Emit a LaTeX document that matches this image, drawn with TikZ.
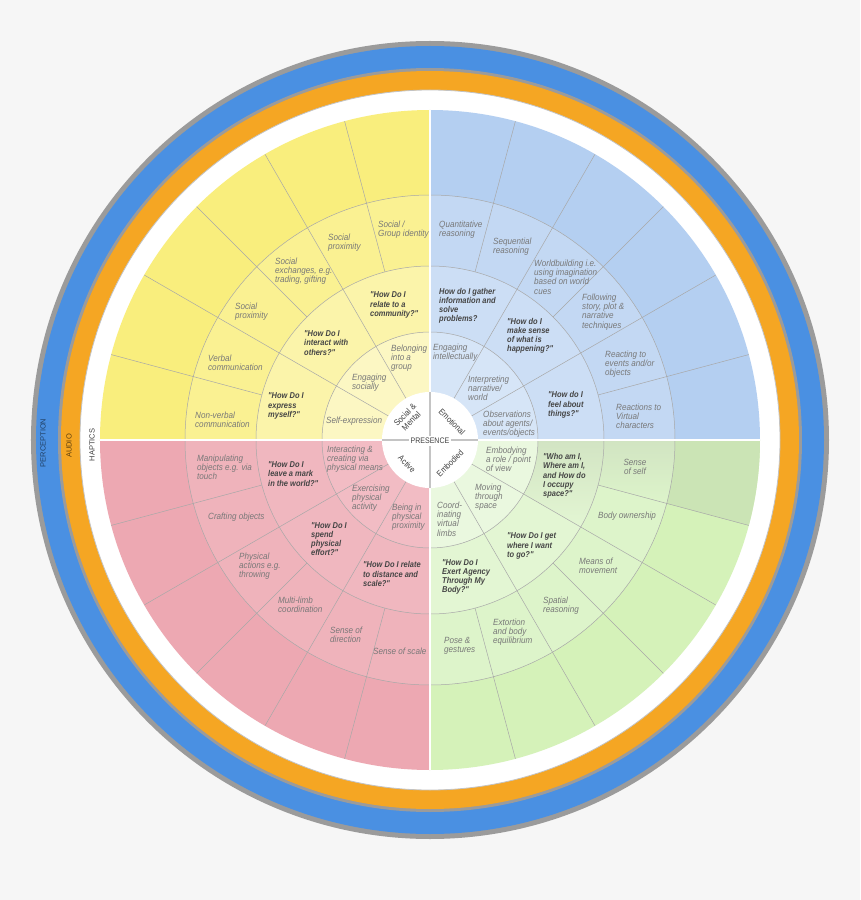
\documentclass[tikz,border=0pt]{standalone}
\usepackage{fontspec}
\setmainfont{Liberation Sans}
\newfontfamily\lblfont[FakeStretch=0.9]{Liberation Sans}
\newfontfamily\qstfont[FakeStretch=0.88]{Liberation Sans}

\definecolor{bgpage}{HTML}{F6F6F6}
\definecolor{ringgray}{HTML}{9B9B9B}
\definecolor{percblue}{HTML}{4A90E2}
\definecolor{audioorange}{HTML}{F5A623}
\definecolor{yelA}{HTML}{FCF7C3}
\definecolor{yelB}{HTML}{FBF4AA}
\definecolor{yelC}{HTML}{FAF192}
\definecolor{yelD}{HTML}{F9EE7D}
\definecolor{bluA}{HTML}{D6E5F7}
\definecolor{bluB}{HTML}{CCDEF5}
\definecolor{bluC}{HTML}{C3D8F3}
\definecolor{bluD}{HTML}{B4CFF1}
\definecolor{grnA}{HTML}{EAF8DF}
\definecolor{grnB}{HTML}{E3F6D3}
\definecolor{grnC}{HTML}{DDF4CA}
\definecolor{grnD}{HTML}{D5F2B9}
\definecolor{grnS2}{HTML}{D2E4C3}
\definecolor{grnS3}{HTML}{D1E4C2}
\definecolor{grnS4}{HTML}{CBE4B5}
\definecolor{redA}{HTML}{F2BCC4}
\definecolor{redB}{HTML}{F0B7BF}
\definecolor{redC}{HTML}{EFB3BB}
\definecolor{redD}{HTML}{EDA8B2}
\definecolor{linegray}{HTML}{A8A8A8}
\definecolor{hubline}{HTML}{C4C4C4}
\definecolor{lblgray}{HTML}{787878}
\definecolor{qstgray}{HTML}{454545}
\definecolor{hubgray}{HTML}{404040}

\begin{document}
\begin{tikzpicture}[x=1pt,y=1pt,inner sep=0pt,
  lbl/.style={font=\fontsize{9}{9.2}\lblfont\itshape, text=lblgray, align=left, anchor=west},
  qst/.style={font=\fontsize{8.5}{9.2}\qstfont\bfseries\itshape, text=qstgray, align=left, anchor=west},
  hub/.style={font=\fontsize{8.5}{9}\qstfont, text=hubgray, align=center},
  band/.style={font=\fontsize{7.5}{8}\selectfont, rotate=90},
  seg/.style={draw=linegray, line width=0.5pt},
  cut/.style={draw=white, line width=2pt}]

\useasboundingbox (-430,-460) rectangle (430,440);
\fill[bgpage] (-430,-460) rectangle (430,440);

% outer bands
\fill[ringgray] (0,0) circle (399);
\fill[percblue] (0,0) circle (394);
\fill[ringgray] (0,0) circle (372);
\fill[audioorange] (0,0) circle (369);
\fill[white] (0,0) circle (350);
\draw[ringgray!60, line width=0.8pt] (0,0) circle (350);

% quadrants, inner level first in the list
\foreach \a/\ca/\cb/\cc/\cd in {90/yelA/yelB/yelC/yelD, 0/bluA/bluB/bluC/bluD,
    270/grnA/grnB/grnC/grnD, 180/redA/redB/redC/redD}{
  \fill[\cd] (0,0) -- (\a:330) arc (\a:\a+90:330) -- cycle;
  \fill[\cc] (0,0) -- (\a:245) arc (\a:\a+90:245) -- cycle;
  \fill[\cb] (0,0) -- (\a:174) arc (\a:\a+90:174) -- cycle;
  \fill[\ca] (0,0) -- (\a:108) arc (\a:\a+90:108) -- cycle;
}
\fill[grnS4] (345:245) -- (345:330) arc (345:360:330) -- (0:245) arc (360:345:245) -- cycle;
\shade[top color=grnS3, bottom color=grnC] (345:174) -- (345:245) arc (345:360:245) -- (0:174) arc (360:345:174) -- cycle;
\shade[top color=grnS2, bottom color=grnB] (330:108) -- (330:174) arc (330:360:174) -- (0:108) arc (360:330:108) -- cycle;

\foreach \r in {108,174,245} \draw[seg] (0,0) circle (\r);
\foreach \a in {30,60,120,150,210,240,300,330} \draw[seg] (\a:48) -- (\a:330);
\foreach \a in {15,45,...,345} \draw[seg] (\a:174) -- (\a:330);
\foreach \a in {0,90,180,270} \draw[cut] (\a:48) -- (\a:330);

% hub
\fill[white] (0,0) circle (48);
\draw[hubline, line width=2pt] (-48,0) -- (48,0) (0,48) -- (0,-48);
\node[hub, font=\fontsize{8}{8.5}\qstfont, fill=white, inner sep=2pt] (presence) at (0,-1) {PRESENCE};
\node[hub, rotate=45] (social) at (-22,22) {Social \&\\Mental};
\node[hub, rotate=-45] (emotional) at (22,18) {Emotional};
\node[hub, rotate=-45] (active) at (-23,-24) {Active};
\node[hub, rotate=45] (embodied) at (20,-23) {Embodied};

\node[band, text=hubgray] (haptics) at (-338,-5) {HAPTICS};
\node[band, text=audioorange!40!black] (audio) at (-361,-6) {AUDIO};
\node[band, text=percblue!45!black] (perception) at (-387,-3) {PERCEPTION};

% social & mental
\node[lbl] (ysg) at (-52,210) {Social /\\Group identity};
\node[lbl] (yspb) at (-102,197) {Social\\proximity};
\node[lbl] (yse) at (-155,169) {Social\\exchanges, e.g.\\trading, gifting};
\node[lbl] (yspa) at (-195,128) {Social\\proximity};
\node[lbl] (yvc) at (-222,77) {Verbal\\communication};
\node[lbl] (ynv) at (-235,20) {Non-verbal\\communication};
\node[qst] (yqc) at (-60,135) {"How Do I\\relate to a\\community?"};
\node[qst] (yqi) at (-126,97) {"How Do I\\interact with\\others?"};
\node[qst] (yqe) at (-162,34) {"How Do I\\express\\myself?"};
\node[lbl] (ybg) at (-39,82) {Belonging\\into a\\group};
\node[lbl] (yes) at (-78,57) {Engaging\\socially};
\node[lbl] (yex) at (-104,19) {Self-expression};

% emotional
\node[lbl] (bqr) at (9,210) {Quantitative\\reasoning};
\node[lbl] (bsr) at (63,193) {Sequential\\reasoning};
\node[lbl] (bwb) at (104,163) {Worldbuilding i.e.\\using imagination\\based on world\\cues};
\node[lbl] (bfs) at (152,128) {Following\\story, plot \&\\narrative\\techniques};
\node[lbl] (bre) at (175,76) {Reacting to\\events and/or\\objects};
\node[lbl] (brv) at (186,24) {Reactions to\\Virtual\\characters};
\node[qst] (bqg) at (9,134) {How do I gather\\information and\\solve\\problems?};
\node[qst] (bqm) at (77,104) {"How do I\\make sense\\of what is\\happening?"};
\node[qst] (bqf) at (118,35) {"How do I\\feel about\\things?"};
\node[lbl] (bei) at (3,87) {Engaging\\intellectually};
\node[lbl] (bin) at (38,52) {Interpreting\\narrative/\\world};
\node[lbl] (bob) at (53,16) {Observations\\about agents/\\events/objects};

% embodied
\node[lbl] (ger) at (56,-19) {Embodying\\a role / point\\of view};
\node[lbl] (gmt) at (45,-57) {Moving\\through\\space};
\node[lbl] (gcv) at (7,-79) {Coord-\\inating\\virtual\\limbs};
\node[qst] (gqw) at (113,-36) {"Who am I,\\Where am I,\\and How do\\I occupy\\space?"};
\node[qst] (gqg) at (77,-106) {"How Do I get\\where I want\\to go?"};
\node[qst] (gqa) at (12,-137) {"How Do I\\Exert Agency\\Through My\\Body?"};
\node[lbl, align=center, anchor=center] (gss) at (205,-27) {Sense\\of self};
\node[lbl] (gbo) at (168,-76) {Body ownership};
\node[lbl] (gmm) at (149,-126) {Means of\\movement};
\node[lbl] (gsr) at (113,-166) {Spatial\\reasoning};
\node[lbl] (gex) at (63,-192) {Extortion\\and body\\equilibrium};
\node[lbl] (gpg) at (14,-206) {Pose \&\\gestures};

% active
\node[lbl] (rmo) at (-233,-27) {Manipulating\\objects e.g. via\\touch};
\node[lbl] (rco) at (-222,-77) {Crafting objects};
\node[lbl] (rpa) at (-191,-126) {Physical\\actions e.g.\\throwing};
\node[lbl] (rml) at (-152,-165) {Multi-limb\\coordination};
\node[lbl] (rsd) at (-100,-195) {Sense of\\direction};
\node[lbl] (rss) at (-57,-211) {Sense of scale};
\node[qst] (rqm) at (-162,-34) {"How Do I\\leave a mark\\in the world?"};
\node[qst] (rqe) at (-119,-99) {"How Do I\\spend\\physical\\effort?"};
\node[qst] (rqd) at (-67,-134) {"How Do I relate\\to distance and\\scale?"};
\node[lbl] (ric) at (-103,-19) {Interacting \&\\creating via\\physical means};
\node[lbl] (rep) at (-78,-58) {Exercising\\physical\\activity};
\node[lbl] (rbp) at (-38,-77) {Being in\\physical\\proximity};

\end{tikzpicture}
\end{document}
